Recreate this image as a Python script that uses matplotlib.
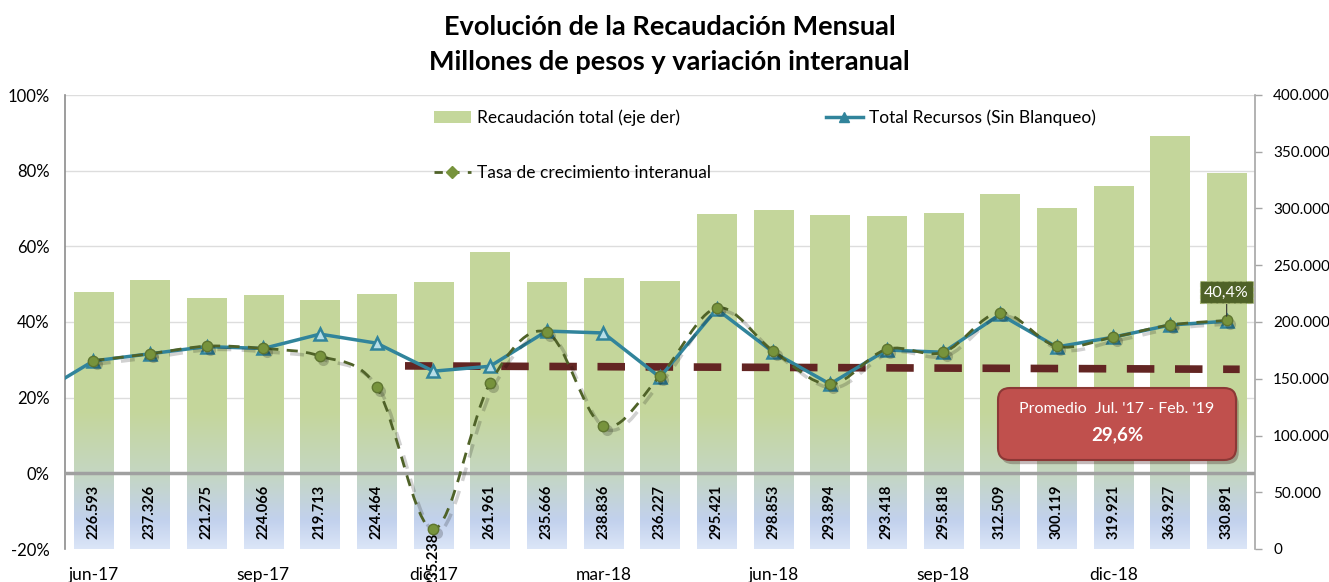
import numpy as np
import matplotlib
matplotlib.use("Agg")
import matplotlib.pyplot as plt
import matplotlib.transforms as mtransforms
from matplotlib.path import Path
from matplotlib.patches import PathPatch, FancyBboxPatch, Patch
from matplotlib.lines import Line2D
from matplotlib.ticker import FuncFormatter, FixedLocator
import matplotlib.patheffects as pe

plt.rcParams['font.family'] = ['Lato', 'DejaVu Sans']

# ---------------- data ----------------
months = ["jun-17", "jul-17", "ago-17", "sep-17", "oct-17", "nov-17", "dic-17",
          "ene-18", "feb-18", "mar-18", "abr-18", "may-18", "jun-18", "jul-18",
          "ago-18", "sep-18", "oct-18", "nov-18", "dic-18", "ene-19", "feb-19"]
recaudacion = [226593, 237326, 221275, 224066, 219713, 224464, 235238,
               261961, 235666, 238836, 236227, 295421, 298853, 293894,
               293418, 295818, 312509, 300119, 319921, 363927, 330891]
# Total Recursos (Sin Blanqueo), % y/y; first value is may-17 (partly off-chart)
recursos_prev = 20.7
total_recursos = [29.7, 31.6, 33.5, 33.0, 36.8, 34.4, 27.0,
                  28.3, 37.6, 37.1, 25.4, 43.4, 32.0, 23.6,
                  32.6, 32.0, 42.0, 33.4, 36.0, 39.2, 40.2]
tasa = [29.8, 31.6, 33.6, 33.0, 31.0, 22.8, -14.8,
        23.8, 37.3, 12.5, 25.7, 43.7, 32.3, 23.5,
        32.8, 32.0, 42.5, 33.6, 36.0, 39.2, 40.4]
promedio_label = "29,6%"
promedio_line = (28.4, 27.5)   # drawn level of the average line (start, end)
xtick_labels = ["jun-17", "sep-17", "dic-17", "mar-18", "jun-18", "sep-18", "dic-18"]

# ---------------- figure ----------------
W, H = 1329, 582
fig = plt.figure(figsize=(W / 100, H / 100), dpi=100)
ax = fig.add_axes([65 / W, 1 - 549 / H, (1255 - 65) / W, (549 - 95) / H])
axl = ax.twinx()

n = len(months)
x = np.arange(n)
ax.set_xlim(-0.5, n - 0.5)
ax.set_ylim(0, 400000)
axl.set_ylim(-20, 100)

# ---- bars with vertical gradient ----
bw = 0.69
bars = ax.bar(x, recaudacion, width=bw, color='#C4D79B', edgecolor='none', zorder=2)
stops = [(0, (0.86, 0.90, 0.97)), (25000, (0.76, 0.82, 0.93)),
         (66000, (0.77, 0.84, 0.76)), (120000, (0.77, 0.84, 0.61)),
         (400000, (0.77, 0.84, 0.61))]
ys = np.linspace(0, 400000, 400)
sv = [s[0] for s in stops]
grad = np.zeros((400, 1, 3))
for c in range(3):
    grad[:, 0, c] = np.interp(ys, sv, [s[1][c] for s in stops])
for b in bars:
    x0 = b.get_x()
    im = ax.imshow(grad, origin='lower', extent=(x0, x0 + bw, 0, 400000),
                   aspect='auto', zorder=2, interpolation='bilinear')
    im.set_clip_path(b)
ax.set_xlim(-0.5, n - 0.5)
ax.set_ylim(0, 400000)

# gridlines (percent levels) behind bars
tr = mtransforms.blended_transform_factory(ax.transAxes, axl.transData)
for p in [20, 40, 60, 80, 100]:
    ax.plot([0, 1], [p, p], transform=tr, color='#DDDDDD', lw=1, zorder=1)

# bar value labels
for i, v in enumerate(recaudacion):
    s = f"{v/1000:.3f}"
    if months[i] == "dic-17":
        ax.text(i, 14000, s, rotation=90, ha='center', va='top', fontsize=10.5,
                fontweight='bold', color='black', zorder=5)
    else:
        ax.text(i, 9000, s, rotation=90, ha='center', va='bottom', fontsize=10.5,
                fontweight='bold', color='black', zorder=5)

# ---- right axis (bars) ----
ax.yaxis.tick_right()
ax.yaxis.set_label_position('right')
ax.yaxis.set_major_locator(FixedLocator(np.arange(0, 400001, 50000)))
ax.yaxis.set_major_formatter(FuncFormatter(lambda v, p: "0" if v == 0 else f"{int(v):,}".replace(",", ".")))
ax.tick_params(axis='y', which='major', direction='out', length=5, width=1,
               color='#A6A6A6', pad=8, labelsize=11, labelcolor='#000000')
ax.set_xticks(np.arange(0, n, 3))
ax.set_xticklabels(xtick_labels)
ax.tick_params(axis='x', length=0, pad=13, labelsize=12.5)
for sp in ['top', 'left', 'bottom']:
    ax.spines[sp].set_visible(False)
ax.spines['right'].set_color('#A6A6A6')
ax.spines['right'].set_linewidth(1.2)

# ---- left axis (percent) ----
axl.yaxis.tick_left()
axl.yaxis.set_label_position('left')
axl.set_yticks(np.arange(-20, 101, 20))
axl.yaxis.set_major_formatter(FuncFormatter(lambda v, p: f"{int(v)}%"))
axl.tick_params(axis='y', length=0, pad=11, labelsize=12)
for sp in ['top', 'right', 'bottom']:
    axl.spines[sp].set_visible(False)
axl.spines['left'].set_color('#8C8C8C')
axl.spines['left'].set_linewidth(1.2)

# zero line
axl.axhline(0, color='#A0A0A0', lw=2.5, zorder=3)

# average dashed line
axl.plot([5.5, n - 0.77], list(promedio_line), color='#632523', lw=5.5,
         dashes=(3.6, 2.7), zorder=4, solid_capstyle='butt', dash_capstyle='butt')

shift = mtransforms.ScaledTranslation(2.5 / 72, -2.5 / 72, fig.dpi_scale_trans)

# Total recursos line
xr = np.concatenate([[-1], x])
yr = np.concatenate([[recursos_prev], total_recursos])
axl.plot(xr, yr, color='#31849B', lw=2.5, zorder=5, clip_on=True)
axl.plot(x, total_recursos, ls='none', marker='^', ms=9, mfc='#B7DEE8',
         mec='#31849B', mew=1.8, zorder=6)

# Tasa de crecimiento: smoothed dashed curve (bezier through points)
P = np.column_stack([x, tasa]).astype(float)
verts = [tuple(P[0])]
codes = [Path.MOVETO]
for i in range(n - 1):
    p0 = P[i - 1] if i > 0 else P[i]
    p1, p2 = P[i], P[i + 1]
    p3 = P[i + 2] if i + 2 < n else P[i + 1]
    c1 = p1 + (p2 - p0) / 6.0
    c2 = p2 - (p3 - p1) / 6.0
    verts += [tuple(c1), tuple(c2), tuple(p2)]
    codes += [Path.CURVE4] * 3
path = Path(verts, codes)
shadow_curve = PathPatch(path, fill=False, edgecolor='black', alpha=0.18, lw=2.5,
                         linestyle=(0, (4, 3)), zorder=6.5, transform=axl.transData + shift)
axl.add_patch(shadow_curve)
curve = PathPatch(path, fill=False, edgecolor='#4F6228', lw=2,
                  linestyle=(0, (4, 3)), zorder=7, transform=axl.transData)
axl.add_patch(curve)
axl.plot(x, tasa, ls='none', marker='o', ms=8, mfc='black', mec='none', alpha=0.2,
         zorder=7.5, transform=axl.transData + shift)
axl.plot(x, tasa, ls='none', marker='o', ms=7.5, mfc='#77933C', mec='#5E7530',
         mew=1, zorder=8)

# last value annotation
axl.annotate("40,4%", xy=(n - 1, tasa[-1]), xytext=(n - 1, 47.8), ha='center', va='center',
             fontsize=11.5, color='white', zorder=9,
             bbox=dict(boxstyle='square,pad=0.25', fc='#4F6228', ec='#A0B070', lw=0.8, ls='--'),
             arrowprops=dict(arrowstyle='-', color='#333333', lw=0.8, shrinkA=0, shrinkB=3))

# promedio box (figure inches)
box = FancyBboxPatch((9.98, 1.22), 2.38, 0.72, boxstyle='round,pad=0,rounding_size=0.12',
                     transform=fig.dpi_scale_trans, fc='#C0504D', ec='#8C3836', lw=1.5,
                     zorder=10)
box.set_path_effects([pe.SimplePatchShadow(offset=(2, -3), alpha=0.3), pe.Normal()])
fig.add_artist(box)
fig.text(1117 / W, 1 - 409 / H, "Promedio  Jul. '17 - Feb. '19", ha='center', va='center',
         color='white', fontsize=11.5, zorder=11)
fig.text(1117 / W, 1 - 435 / H, promedio_label, ha='center', va='center',
         color='white', fontsize=13.5, fontweight='bold', zorder=11)

# title
fig.text(0.504, 1 - 27 / H, "Evolución de la Recaudación Mensual", ha='center', va='center',
         fontsize=19.5, fontweight='bold')
fig.text(0.504, 1 - 62 / H, "Millones de pesos y variación interanual", ha='center', va='center',
         fontsize=19.5, fontweight='bold')

# legend
handles = [Patch(fc='#C4D79B', ec='none'),
           Line2D([], [], color='#4F6228', lw=2, ls=(0, (3, 3)), marker='D', ms=6,
                  mfc='#77933C', mec='#77933C'),
           Line2D([], [], color='#31849B', lw=2.5, marker='^', ms=7, mfc='#31849B', mec='#31849B')]
labels = ["Recaudación total (eje der)", "Tasa de crecimiento interanual",
          "Total Recursos (Sin Blanqueo)"]
leg = axl.legend(handles, labels, ncol=2, frameon=False, fontsize=12.5,
                 loc='upper left', bbox_to_anchor=(418 / W, 1 - 94 / H),
                 bbox_transform=fig.transFigure, labelspacing=2.25, columnspacing=6.6,
                 handlelength=2.15, handletextpad=0.35)
leg.set_zorder(12)

fig.savefig("out.png", dpi=100)
